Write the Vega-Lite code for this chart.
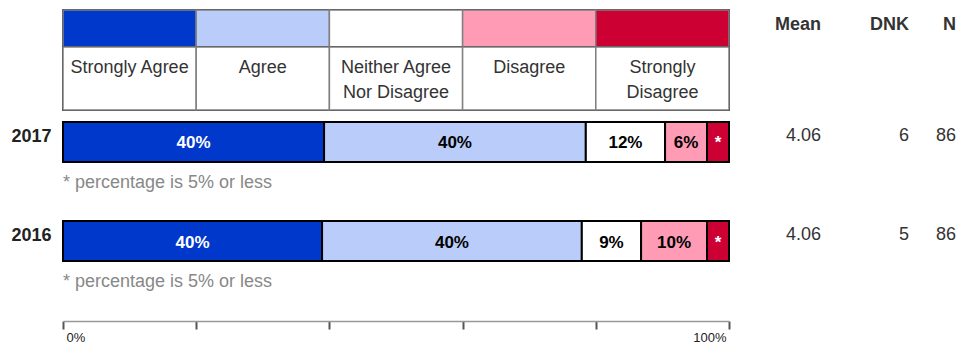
{
  "$schema": "https://vega.github.io/schema/vega-lite/v6.json",
  "padding": {"left": 10, "top": 8, "right": 5, "bottom": 0},
  "config": {"font": "Liberation Sans", "view": {"stroke": null}, "axis": {"grid": false}},
  "spacing": 0,
  "bounds": "flush",
  "columns": 4,
  "datasets": {
    "legend": [
      {"category": "Strongly Agree", "text": "Strongly Agree"},
      {"category": "Agree", "text": "Agree"},
      {"category": "Neither Agree Nor Disagree", "text": "Neither Agree\nNor Disagree"},
      {"category": "Disagree", "text": "Disagree"},
      {"category": "Strongly Disagree", "text": "Strongly\nDisagree"}
    ],
    "bars": [
      {"year": "2017", "category": "Strongly Agree", "ord": 1, "pct": 39.2, "label": "40%"},
      {"year": "2017", "category": "Agree", "ord": 2, "pct": 39.3, "label": "40%"},
      {"year": "2017", "category": "Neither Agree Nor Disagree", "ord": 3, "pct": 11.9, "label": "12%"},
      {"year": "2017", "category": "Disagree", "ord": 4, "pct": 6.3, "label": "6%"},
      {"year": "2017", "category": "Strongly Disagree", "ord": 5, "pct": 3.3, "label": "*"},
      {"year": "2016", "category": "Strongly Agree", "ord": 1, "pct": 38.9, "label": "40%"},
      {"year": "2016", "category": "Agree", "ord": 2, "pct": 39.0, "label": "40%"},
      {"year": "2016", "category": "Neither Agree Nor Disagree", "ord": 3, "pct": 8.9, "label": "9%"},
      {"year": "2016", "category": "Disagree", "ord": 4, "pct": 9.9, "label": "10%"},
      {"year": "2016", "category": "Strongly Disagree", "ord": 5, "pct": 3.3, "label": "*"}
    ],
    "notes": [
      {"year": "2017", "note": "* percentage is 5% or less"},
      {"year": "2016", "note": "* percentage is 5% or less"}
    ],
    "stats": [
      {"year": "2017", "stat": "Mean", "value": "4.06"},
      {"year": "2017", "stat": "DNK", "value": "6"},
      {"year": "2017", "stat": "N", "value": "86"},
      {"year": "2016", "stat": "Mean", "value": "4.06"},
      {"year": "2016", "stat": "DNK", "value": "5"},
      {"year": "2016", "stat": "N", "value": "86"}
    ]
  },
  "concat": [
    {
      "width": 666, "height": 37,
      "data": {"name": "legend"},
      "view": {"stroke": "#222", "strokeWidth": 2},
      "mark": {"type": "rect", "stroke": "#808080", "strokeWidth": 1.5},
      "encoding": {
        "x": {"field": "category", "type": "nominal", "scale": {"type": "band", "domain": ["Strongly Agree", "Agree", "Neither Agree Nor Disagree", "Disagree", "Strongly Disagree"], "paddingInner": 0, "paddingOuter": 0}, "axis": null},
        "color": {"field": "category", "type": "nominal", "scale": {"domain": ["Strongly Agree", "Agree", "Neither Agree Nor Disagree", "Disagree", "Strongly Disagree"], "range": ["#0038CC", "#B9CCFA", "#FFFFFF", "#FF9BB5", "#CC0033"]}, "legend": null}
      }
    },
    {
      "width": 92, "height": 37,
      "data": {"name": "stats"},
      "transform": [{"filter": "datum.year == '2017' && datum.stat == 'Mean'"}],
      "mark": {"type": "text", "align": "right", "baseline": "alphabetic", "dy": 1, "fontSize": 18, "fontWeight": "bold", "color": "#333"},
      "encoding": {
        "x": {"field": "stat", "type": "nominal", "scale": {"type": "band", "paddingInner": 0, "paddingOuter": 0}, "bandPosition": 1, "axis": null},
        "text": {"field": "stat"}
      }
    },
    {
      "width": 88, "height": 37,
      "data": {"name": "stats"},
      "transform": [{"filter": "datum.year == '2017' && datum.stat == 'DNK'"}],
      "mark": {"type": "text", "align": "right", "baseline": "alphabetic", "dy": 1, "fontSize": 18, "fontWeight": "bold", "color": "#333"},
      "encoding": {
        "x": {"field": "stat", "type": "nominal", "scale": {"type": "band", "paddingInner": 0, "paddingOuter": 0}, "bandPosition": 1, "axis": null},
        "text": {"field": "stat"}
      }
    },
    {
      "width": 47, "height": 37,
      "data": {"name": "stats"},
      "transform": [{"filter": "datum.year == '2017' && datum.stat == 'N'"}],
      "mark": {"type": "text", "align": "right", "baseline": "alphabetic", "dy": 1, "fontSize": 18, "fontWeight": "bold", "color": "#333"},
      "encoding": {
        "x": {"field": "stat", "type": "nominal", "scale": {"type": "band", "paddingInner": 0, "paddingOuter": 0}, "bandPosition": 1, "axis": null},
        "text": {"field": "stat"}
      }
    },
    {
      "width": 666, "height": 63,
      "data": {"name": "legend"},
      "view": {"stroke": "#222", "strokeWidth": 2},
      "encoding": {
        "x": {"field": "category", "type": "nominal", "scale": {"type": "band", "domain": ["Strongly Agree", "Agree", "Neither Agree Nor Disagree", "Disagree", "Strongly Disagree"], "paddingInner": 0, "paddingOuter": 0}, "axis": null}
      },
      "layer": [
        {"mark": {"type": "rect", "fill": "white", "stroke": "#808080", "strokeWidth": 1.5}},
        {"mark": {"type": "text", "baseline": "top", "dy": -20, "fontSize": 18, "color": "#333", "lineBreak": "\n", "lineHeight": 25}, "encoding": {"text": {"field": "text"}}}
      ]
    },
    {"width": 92, "height": 63, "data": {"values": [{}]}, "mark": "text", "encoding": {"text": {"value": ""}}},
    {"width": 88, "height": 63, "data": {"values": [{}]}, "mark": "text", "encoding": {"text": {"value": ""}}},
    {"width": 47, "height": 63, "data": {"values": [{}]}, "mark": "text", "encoding": {"text": {"value": ""}}},
    {
      "width": 666, "height": 163,
      "encoding": {
        "y": {"field": "year", "type": "nominal", "scale": {"type": "band", "domain": ["2017", "2016"], "paddingInner": 0.596, "paddingOuter": 0.1212},
          "axis": {"title": null, "domain": false, "ticks": false, "tickSize": 0, "labelPadding": 12, "labelFontSize": 18, "labelFontWeight": "bold", "labelColor": "#222", "labelBaseline": "alphabetic"}}
      },
      "layer": [
        {
          "data": {"name": "bars"},
          "mark": {"type": "bar", "stroke": "black", "strokeWidth": 2},
          "encoding": {
            "x": {"field": "pct", "type": "quantitative", "stack": "zero", "scale": {"domain": [0, 100], "nice": false},
              "axis": {"title": null, "values": [0, 20, 40, 60, 80, 100], "labelExpr": "datum.value == 0 ? '0%' : (datum.value == 100 ? '100%' : '')", "labelFlush": true, "labelFlushOffset": -3, "labelOverlap": false, "offset": 48, "tickSize": 8, "tickWidth": 2, "tickColor": "#555", "domainColor": "#999", "domainWidth": 1.5, "labelFontSize": 13, "labelColor": "#222", "labelPadding": 2, "labelBaseline": "top"}},
            "color": {"field": "category", "type": "nominal", "scale": {"domain": ["Strongly Agree", "Agree", "Neither Agree Nor Disagree", "Disagree", "Strongly Disagree"], "range": ["#0038CC", "#B9CCFA", "#FFFFFF", "#FF9BB5", "#CC0033"]}, "legend": null},
            "order": {"field": "ord", "type": "quantitative"}
          }
        },
        {
          "data": {"name": "bars"},
          "mark": {"type": "text", "fontSize": 17, "fontWeight": "bold", "baseline": "alphabetic", "dy": 6.5},
          "encoding": {
            "x": {"field": "pct", "type": "quantitative", "stack": "zero", "bandPosition": 0.5},
            "detail": {"field": "category", "type": "nominal"},
            "order": {"field": "ord", "type": "quantitative"},
            "text": {"field": "label"},
            "color": {"condition": {"test": "datum.category == 'Strongly Agree' || datum.category == 'Strongly Disagree'", "value": "white"}, "value": "black"}
          }
        },
        {
          "data": {"name": "notes"},
          "mark": {"type": "text", "align": "left", "baseline": "alphabetic", "dy": 46, "fontSize": 18, "color": "#888"},
          "encoding": {"x": {"datum": 0}, "text": {"field": "note"}}
        }
      ]
    },
    {
      "width": 92, "height": 163,
      "data": {"name": "stats"},
      "transform": [{"filter": "datum.stat == 'Mean'"}],
      "mark": {"type": "text", "align": "right", "baseline": "alphabetic", "dy": -1, "fontSize": 18, "color": "#333"},
      "encoding": {
        "x": {"field": "stat", "type": "nominal", "scale": {"type": "band", "paddingInner": 0, "paddingOuter": 0}, "bandPosition": 1, "axis": null},
        "y": {"field": "year", "type": "nominal", "scale": {"type": "band", "domain": ["2017", "2016"], "paddingInner": 0.596, "paddingOuter": 0.1212}, "axis": null},
        "text": {"field": "value"}
      }
    },
    {
      "width": 88, "height": 163,
      "data": {"name": "stats"},
      "transform": [{"filter": "datum.stat == 'DNK'"}],
      "mark": {"type": "text", "align": "right", "baseline": "alphabetic", "dy": -1, "fontSize": 18, "color": "#333"},
      "encoding": {
        "x": {"field": "stat", "type": "nominal", "scale": {"type": "band", "paddingInner": 0, "paddingOuter": 0}, "bandPosition": 1, "axis": null},
        "y": {"field": "year", "type": "nominal", "scale": {"type": "band", "domain": ["2017", "2016"], "paddingInner": 0.596, "paddingOuter": 0.1212}, "axis": null},
        "text": {"field": "value"}
      }
    },
    {
      "width": 47, "height": 163,
      "data": {"name": "stats"},
      "transform": [{"filter": "datum.stat == 'N'"}],
      "mark": {"type": "text", "align": "right", "baseline": "alphabetic", "dy": -1, "fontSize": 18, "color": "#333"},
      "encoding": {
        "x": {"field": "stat", "type": "nominal", "scale": {"type": "band", "paddingInner": 0, "paddingOuter": 0}, "bandPosition": 1, "axis": null},
        "y": {"field": "year", "type": "nominal", "scale": {"type": "band", "domain": ["2017", "2016"], "paddingInner": 0.596, "paddingOuter": 0.1212}, "axis": null},
        "text": {"field": "value"}
      }
    }
  ]
}
